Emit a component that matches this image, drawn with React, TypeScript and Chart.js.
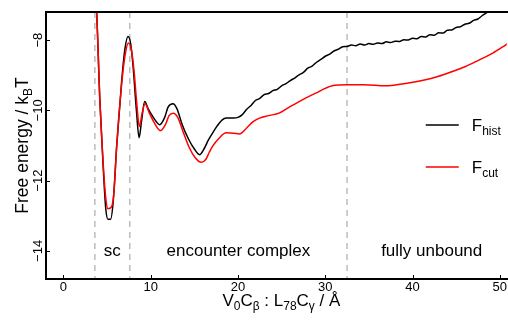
import React, { useEffect, useRef } from "react";
import { Chart, registerables } from "chart.js";

Chart.register(...registerables);

// ---- data ----
const histX = [3.4, 3.8, 4.17, 4.55, 4.85, 5.1, 5.4, 5.7, 6.08, 6.65, 7.03, 7.4, 7.7, 7.98, 8.36, 8.67, 8.95, 9.31, 9.7, 10.3, 11.03, 11.6, 12.0, 12.55, 13.0, 13.6, 14.3, 15.0, 15.6, 16.1, 16.6, 17.1, 17.6, 18.2, 18.65, 19.5,
  20.0, 20.5, 21.0, 21.5, 22.0, 22.5, 23.0, 23.5, 24.0, 24.5, 25.0, 25.5, 26.0, 26.5, 27.0, 27.5, 28.0, 28.5, 29.0, 29.5, 30.0, 30.5, 31.0, 31.5, 32.0, 32.5, 33.0, 33.5, 34.0, 34.5, 35.0, 35.5, 36.0, 36.5, 37.0, 37.5, 38.0, 38.5, 39.0, 39.5, 40.0, 40.5, 41.0, 41.5, 42.0, 42.5, 43.0, 43.5, 44.0, 44.5, 45.0, 45.5, 46.0, 46.5, 47.0, 47.5, 48.0, 48.5, 49.0, 50.0, 51.0];
const histY = [-6.0, -7.2, -9.7, -11.6, -12.8, -13.1, -13.1, -12.6, -11.1, -9.23, -8.28, -7.9, -8.1, -8.75, -10.0, -10.78, -10.3, -9.75, -9.95, -10.2, -10.41, -10.2, -9.9, -9.81, -9.95, -10.4, -10.8, -11.1, -11.26, -11.1, -10.85, -10.64, -10.45, -10.27, -10.22, -10.22,
  -10.2, -10.12, -9.97, -9.86, -9.72, -9.66, -9.55, -9.52, -9.44, -9.4, -9.3, -9.24, -9.15, -9.08, -8.99, -8.92, -8.8, -8.74, -8.63, -8.55, -8.46, -8.4, -8.31, -8.26, -8.19, -8.18, -8.14, -8.16, -8.11, -8.14, -8.1, -8.12, -8.08, -8.1, -8.05, -8.07, -8.03, -8.04, -7.99, -8.0, -7.95, -7.96, -7.9, -7.91, -7.85, -7.86, -7.79, -7.8, -7.72, -7.71, -7.64, -7.62, -7.55, -7.52, -7.44, -7.4, -7.3, -7.22, -7.12, -6.95, -6.8];

const cutX = [3.4, 3.8, 4.17, 4.55, 4.85, 5.1, 5.5, 5.8, 6.1, 6.65, 7.05, 7.45, 7.8, 8.1, 8.4, 8.7, 9.0, 9.35, 9.8, 10.4, 11.1, 11.7, 12.1, 12.6, 13.1, 13.7, 14.4, 15.1, 15.8, 16.3, 16.7, 17.1, 17.8, 18.65, 19.5, 20.17, 21.0, 21.7, 22.46, 23.5, 24.7, 25.8, 27.0, 28.9, 30.8, 32.5, 34.5, 36.9, 39.0, 41.5, 43.0, 44.5, 46.0, 47.6, 49.2, 50.65, 51.5];
const cutY = [-6.0, -7.2, -9.7, -11.5, -12.5, -12.8, -12.75, -12.3, -11.0, -9.3, -8.45, -8.08, -8.3, -8.9, -9.8, -10.46, -10.1, -9.81, -10.05, -10.35, -10.58, -10.4, -10.15, -10.08, -10.2, -10.6, -11.05, -11.35, -11.48, -11.4, -11.2, -11.02, -10.8, -10.64, -10.65, -10.67, -10.5, -10.33, -10.22, -10.15, -10.08, -9.92, -9.75, -9.51, -9.3, -9.27, -9.27, -9.3, -9.24, -9.13, -9.03, -8.9, -8.76, -8.57, -8.37, -8.14, -8.0];

const xTicks = [0, 10, 20, 30, 40, 50];
const yTicks = [-8, -10, -12, -14];
const boundaries = [3.6, 7.6, 32.5];
const regionLabels = ["sc", "encounter complex", "fully unbound"];
const regionX = [5.6, 20.05, 42.2];
const regionY = -14.0;
const legendMain = ["F", "F"];
const legendSub = ["hist", "cut"];
const seriesColors = ["#000000", "#ff0000"];

const FONT = '"Liberation Sans", Arial, Helvetica, sans-serif';

type Part = [string, boolean];

function partsWidth(ctx: CanvasRenderingContext2D, parts: Part[], size: number, sub: number) {
  let w = 0;
  for (const [t, s] of parts) {
    ctx.font = `${s ? sub : size}px ${FONT}`;
    w += ctx.measureText(t).width;
  }
  return w;
}

function drawParts(ctx: CanvasRenderingContext2D, parts: Part[], x: number, y: number, size: number, sub: number, align: "left" | "center") {
  const w = partsWidth(ctx, parts, size, sub);
  let cx = align === "center" ? x - w / 2 : x;
  ctx.textAlign = "left";
  ctx.textBaseline = "alphabetic";
  for (const [t, s] of parts) {
    ctx.font = `${s ? sub : size}px ${FONT}`;
    ctx.fillText(t, cx, s ? y + size * 0.25 : y);
    cx += ctx.measureText(t).width;
  }
}

const decorPlugin = {
  id: "decor",
  beforeDatasetsDraw(chart: any) {
    const { ctx, chartArea: a, scales } = chart;
    const xs = scales.x;
    ctx.save();
    ctx.strokeStyle = "#bdbdbd";
    ctx.lineWidth = 1.5;
    ctx.setLineDash([6, 5]);
    for (const b of boundaries) {
      const px = xs.getPixelForValue(b);
      ctx.beginPath();
      ctx.moveTo(px, a.top);
      ctx.lineTo(px, a.bottom);
      ctx.stroke();
    }
    ctx.restore();
  },
  afterDraw(chart: any) {
    const { ctx, chartArea: a, scales } = chart;
    const xs = scales.x;
    const ys = scales.y;
    ctx.save();
    ctx.fillStyle = "#000";
    ctx.strokeStyle = "#000";
    // box (left, top, bottom)
    ctx.lineWidth = 2;
    ctx.beginPath();
    ctx.moveTo(a.right + 2, a.top);
    ctx.lineTo(a.left, a.top);
    ctx.lineTo(a.left, a.bottom);
    ctx.lineTo(a.right + 2, a.bottom);
    ctx.stroke();
    // inward tick marks
    ctx.lineWidth = 1;
    for (const t of xTicks) {
      const px = Math.round(xs.getPixelForValue(t)) + 0.5;
      ctx.beginPath();
      ctx.moveTo(px, a.bottom);
      ctx.lineTo(px, a.bottom - 4);
      ctx.stroke();
    }
    for (const t of yTicks) {
      const py = Math.round(ys.getPixelForValue(t)) + 0.5;
      ctx.beginPath();
      ctx.moveTo(a.left, py);
      ctx.lineTo(a.left + 4, py);
      ctx.stroke();
    }
    // rotated y tick labels
    ctx.font = `13px ${FONT}`;
    ctx.textAlign = "center";
    ctx.textBaseline = "middle";
    for (const t of yTicks) {
      const py = ys.getPixelForValue(t);
      ctx.save();
      ctx.translate(a.left - 8, py);
      ctx.rotate(-Math.PI / 2);
      ctx.fillText(String(t).replace("-", "\u2212"), 0, 0);
      ctx.restore();
    }
    // y title
    ctx.save();
    ctx.translate(a.left - 18, (a.top + a.bottom) / 2);
    ctx.rotate(-Math.PI / 2);
    drawParts(ctx, [["Free energy / k", false], ["B", true], ["T", false]], 0, 0, 17.5, 12, "center");
    ctx.restore();
    // x title
    drawParts(
      ctx,
      [["V", false], ["0", true], ["C", false], ["\u03b2", true], [" : L", false], ["78", true], ["C", false], ["\u03b3", true], [" / \u00c5", false]],
      (a.left + a.right) / 2 + 5,
      a.bottom + 27,
      17,
      12,
      "center"
    );
    // region labels
    ctx.font = `17px ${FONT}`;
    ctx.textAlign = "center";
    ctx.textBaseline = "middle";
    regionLabels.forEach((lab, i) => {
      ctx.fillText(lab, xs.getPixelForValue(regionX[i]), ys.getPixelForValue(regionY));
    });
    // legend
    legendMain.forEach((m, i) => {
      const ly = a.top + 113 + i * 42;
      ctx.strokeStyle = seriesColors[i];
      ctx.lineWidth = 1.5;
      ctx.beginPath();
      ctx.moveTo(a.right - 81, ly);
      ctx.lineTo(a.right - 48, ly);
      ctx.stroke();
      ctx.fillStyle = "#000";
      drawParts(ctx, [[m, false], [legendSub[i], true]], a.right - 35, ly + 6, 17, 12, "left");
    });
    ctx.restore();
  },
};

export default function App() {
  const ref = useRef<HTMLCanvasElement | null>(null);
  useEffect(() => {
    if (!ref.current) return;
    const chart = new Chart(ref.current, {
      type: "line",
      data: {
        datasets: [
          {
            label: "Fhist",
            data: histX.map((x, i) => ({ x, y: histY[i] })),
            borderColor: seriesColors[0],
            borderWidth: 1.5,
            pointRadius: 0,
            cubicInterpolationMode: "monotone",
            order: 1,
          },
          {
            label: "Fcut",
            data: cutX.map((x, i) => ({ x, y: cutY[i] })),
            borderColor: seriesColors[1],
            borderWidth: 1.5,
            pointRadius: 0,
            cubicInterpolationMode: "monotone",
            order: 0,
          },
        ],
      },
      options: {
        animation: false,
        responsive: false,
        events: [],
        layout: { padding: { top: 12, right: 0, left: 0, bottom: 0 } },
        plugins: { legend: { display: false }, tooltip: { enabled: false } },
        scales: {
          x: {
            type: "linear",
            min: -2,
            max: 50.8,
            afterBuildTicks: (s: any) => {
              s.ticks = xTicks.map((v) => ({ value: v }));
            },
            afterFit: (s: any) => {
              s.height = 41;
            },
            grid: { display: false, drawTicks: false },
            border: { display: false },
            ticks: { color: "#000", font: { family: FONT, size: 13 }, padding: 1, maxRotation: 0, autoSkip: false },
          },
          y: {
            type: "linear",
            min: -14.8,
            max: -7.2,
            afterBuildTicks: (s: any) => {
              s.ticks = yTicks.map((v) => ({ value: v }));
            },
            afterFit: (s: any) => {
              s.width = 46;
            },
            grid: { display: false, drawTicks: false },
            border: { display: false },
            ticks: { display: false },
          },
        },
      },
      plugins: [decorPlugin],
    } as any);
    return () => chart.destroy();
  }, []);
  return (
    <div style={{ position: "fixed", left: 0, top: 0, width: 508, height: 320, background: "#fff" }}>
      <canvas ref={ref} width={508} height={320} style={{ display: "block" }} />
    </div>
  );
}
